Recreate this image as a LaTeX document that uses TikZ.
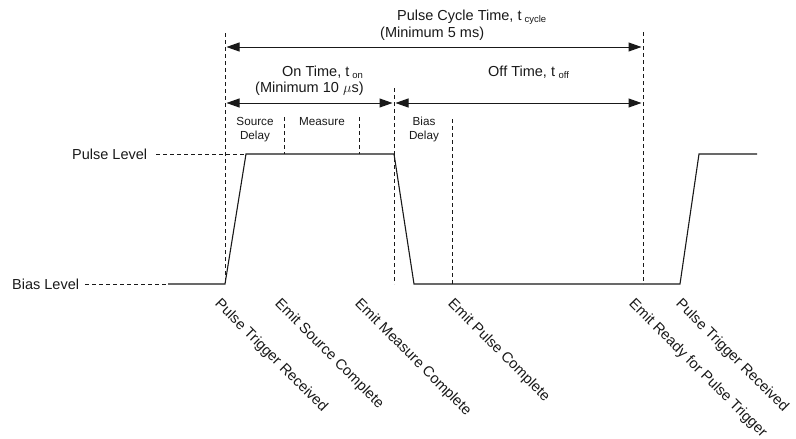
\documentclass[tikz,border=0pt]{standalone}
\usepackage{fontspec}
\setmainfont{Liberation Sans}
\usetikzlibrary{arrows.meta}
\newcommand{\tsub}[1]{\raisebox{-0.35ex}{\fontsize{9.5}{10}\selectfont #1}}
\begin{document}
\begin{tikzpicture}[x=1pt,y=-1pt,
  big/.style={font=\fontsize{14.5}{16}\selectfont, inner sep=0pt, text=black!90},
  small/.style={font=\fontsize{11.7}{14}\selectfont, inner sep=0pt, text=black!90},
  wave/.style={line width=1.1pt, black!90},
  guide/.style={line width=0.9pt, black!90, dash pattern=on 4pt off 3pt},
  dim/.style={line width=1pt, black!90, shorten <=1.5pt, shorten >=1.5pt,
    {Triangle[length=13pt,width=9pt]}-{Triangle[length=13pt,width=9pt]}},
  evt/.style={font=\fontsize{14.7}{17}\selectfont, inner sep=0pt, text=black!90, rotate=-45, anchor=north west}]
\useasboundingbox (0,0) rectangle (796,439);

% waveform points
\coordinate (b0) at (168,284);
\coordinate (r1b) at (225,284);
\coordinate (r1t) at (246,154);
\coordinate (f1t) at (394,154);
\coordinate (f1b) at (414,284);
\coordinate (r2b) at (680,284);
\coordinate (r2t) at (699,154);
\coordinate (p2) at (757,154);
\draw[wave] (b0) -- (r1b) -- (r1t) -- (f1t) -- (f1b) -- (r2b) -- (r2t) -- (p2);

% level labels
\node[big, anchor=base west] (pl) at (72,159) {Pulse Level};
\node[big, anchor=base west] (bl) at (12,289) {Bias Level};
\coordinate (plend) at ([xshift=9pt]pl.east);
\coordinate (blend) at ([xshift=6pt]bl.east);
\draw[guide] (plend |- r1t) -- (r1t);
\draw[guide] (blend |- b0) -- (b0);

% vertical guides
\coordinate (g1t) at (225,33);
\coordinate (g2t) at (284,117);
\coordinate (g2b) at (284,154);
\coordinate (g3t) at (359,117);
\coordinate (g3b) at (359,154);
\coordinate (g4t) at (394,88);
\coordinate (g4b) at (394,284);
\coordinate (g5t) at (452,119);
\coordinate (g5b) at (452,284);
\coordinate (g6t) at (643,32);
\coordinate (g6b) at (643,284);
\draw[guide] (g1t) -- (r1b);
\draw[guide] (g2t) -- (g2b);
\draw[guide] (g3t) -- (g3b);
\draw[guide] (g4t) -- (g4b);
\draw[guide] (g5t) -- (g5b);
\draw[guide] (g6t) -- (g6b);

% dimension arrows
\coordinate (ca) at (225,47);
\coordinate (cb) at (643,47);
\coordinate (oa) at (225,103);
\coordinate (ob) at (394,103);
\coordinate (fb) at (643,103);
\draw[dim] (ca) -- (cb);
\draw[dim] (oa) -- (ob);
\draw[dim] (ob) -- (fb);

% dimension texts
\node[big, anchor=base west] (cyc1) at (397,20) {Pulse Cycle Time, t\hspace{3pt}\tsub{cycle}};
\node[big, anchor=base west] (cyc2) at (380,37) {(Minimum 5 ms)};
\node[big, anchor=base west] (on1) at (282,76) {On Time, t\hspace{3pt}\tsub{on}};
\node[big, anchor=base west] (on2) at (255,92) {(Minimum 10 $\mu$s)};
\node[big, anchor=base west] (off1) at (488,76) {Off Time, t\hspace{3.5pt}\tsub{off}};

% small phase labels
\node[small, anchor=base] (sd1) at (255,125) {Source};
\node[small, anchor=base] (sd2) at (255,139) {Delay};
\node[small, anchor=base] (ms) at (322,125) {Measure};
\node[small, anchor=base] (bd1) at (424,125) {Bias};
\node[small, anchor=base] (bd2) at (424,139) {Delay};

% event labels
\node[evt] (e1) at (222,297) {Pulse Trigger Received};
\node[evt] (e2) at (282,297) {Emit Source Complete};
\node[evt] (e3) at (362,297) {Emit Measure Complete};
\node[evt] (e4) at (455,297) {Emit Pulse Complete};
\node[evt] (e5) at (636,297) {Emit Ready for Pulse Trigger};
\node[evt] (e6) at (683,297) {Pulse Trigger Received};
\end{tikzpicture}
\end{document}
